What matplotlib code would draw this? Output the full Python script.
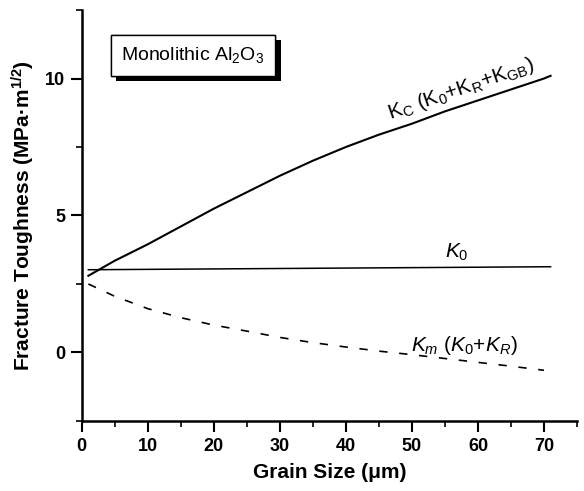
import numpy as np
import matplotlib
matplotlib.use('Agg')
import matplotlib.pyplot as plt
import matplotlib.patheffects as pe
from matplotlib.ticker import MultipleLocator

plt.rcParams['font.family'] = ['Liberation Sans', 'DejaVu Sans']
plt.rcParams['mathtext.fontset'] = 'custom'
plt.rcParams['mathtext.rm'] = 'Liberation Sans'
plt.rcParams['mathtext.it'] = 'Liberation Sans:italic'
plt.rcParams['mathtext.bf'] = 'Liberation Sans:bold'

# grain size (um)
grain_kc = [1, 5, 10, 15, 20, 25, 30, 35, 40, 45, 50, 55, 60, 65, 70, 71]
kc_vals = [2.8, 3.35, 3.95, 4.6, 5.25, 5.85, 6.45, 7.0, 7.5, 7.95, 8.35, 8.8, 9.2, 9.6, 10.0, 10.1]

grain_k0 = [1, 71]
k0_vals = [3.02, 3.13]

grain_km = [1, 5, 10, 15, 20, 25, 30, 35, 40, 45, 50, 55, 60, 65, 70]
km_vals = [2.5, 2.05, 1.6, 1.27, 1.0, 0.78, 0.55, 0.36, 0.2, 0.05, -0.08, -0.22, -0.36, -0.5, -0.65]

fig = plt.figure(figsize=(5.84, 4.91), dpi=100)
ax = fig.add_axes([0.140, 0.1426, 0.848, 0.837])

ax.plot(grain_kc, kc_vals, color='black', lw=1.5)
ax.plot(grain_k0, k0_vals, color='black', lw=1.1)
ax.plot(grain_km, km_vals, color='black', lw=1.2, dashes=(5, 7))

ax.set_xlim(0, 75)
ax.set_ylim(-2.5, 12.5)
ax.xaxis.set_major_locator(MultipleLocator(10))
ax.xaxis.set_minor_locator(MultipleLocator(5))
ax.yaxis.set_major_locator(MultipleLocator(5))
ax.yaxis.set_minor_locator(MultipleLocator(2.5))
ax.tick_params(which='major', direction='out', length=8, width=1.5, labelsize=13, pad=4)
ax.tick_params(which='minor', direction='out', length=4, width=1.2)
for lab in ax.get_xticklabels() + ax.get_yticklabels():
    lab.set_fontweight('bold')

ax.spines['top'].set_visible(False)
ax.spines['right'].set_visible(False)
ax.spines['left'].set_linewidth(1.8)
ax.spines['bottom'].set_linewidth(1.8)

ax.set_xlabel('Grain Size (\u03bcm)', fontsize=15, fontweight='bold', labelpad=6)
ax.set_ylabel('Fracture Toughness (MPa\u00b7m$^{\\mathbf{1/2}}$)', fontsize=15,
              fontweight='bold', labelpad=6)

ax.text(57.4, 9.6, '$\\mathrm{K_C\\ (K_0{+}K_R{+}K_{GB})}$', fontsize=15,
        rotation=19, ha='center', va='center')
ax.text(56.8, 3.65, '$K_0$', fontsize=15, ha='center', va='center')
ax.text(58, 0.25, '$K_m\\ (K_0{+}K_R)$', fontsize=15, ha='center', va='center')

t = ax.text(6.0, 10.85, 'Monolithic Al$_2$O$_3$', fontsize=14, ha='left', va='center',
            bbox=dict(boxstyle='square,pad=0.55', facecolor='white', edgecolor='black', lw=1))
t.get_bbox_patch().set_path_effects([
    pe.withSimplePatchShadow(offset=(4, -4), shadow_rgbFace='black', alpha=1),
    pe.Normal()])

fig.savefig('out.png', dpi=100)
